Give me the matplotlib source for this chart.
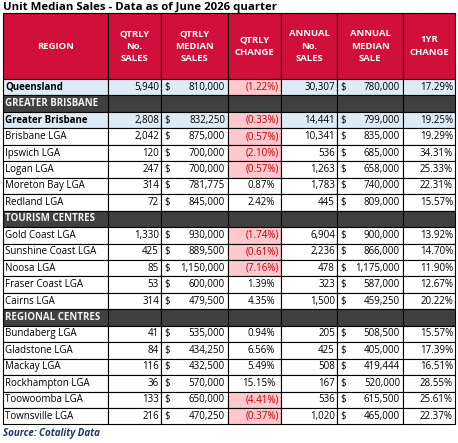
import matplotlib
matplotlib.use("Agg")
import matplotlib.pyplot as plt
from matplotlib.patches import Rectangle

title = "Unit Median Sales - Data as of June 2026 quarter"
headers = ["REGION", "QTRLY\nNo.\nSALES", "QTRLY\nMEDIAN\nSALES", "QTRLY\nCHANGE",
           "ANNUAL\nNo.\nSALES", "ANNUAL\nMEDIAN\nSALE", "1YR\nCHANGE"]
regions = ["Queensland", "GREATER BRISBANE", "Greater Brisbane", "Brisbane LGA", "Ipswich LGA",
           "Logan LGA", "Moreton Bay LGA", "Redland LGA", "TOURISM CENTRES", "Gold Coast LGA",
           "Sunshine Coast LGA", "Noosa LGA", "Fraser Coast LGA", "Cairns LGA", "REGIONAL CENTRES",
           "Bundaberg LGA", "Gladstone LGA", "Mackay LGA", "Rockhampton LGA", "Toowoomba LGA",
           "Townsville LGA"]
qtr_sales = [5940, None, 2808, 2042, 120, 247, 314, 72, None, 1330, 425, 85, 53, 314, None,
             41, 84, 116, 36, 133, 216]
qtr_median = [810000, None, 832250, 875000, 700000, 700000, 781775, 845000, None, 930000, 889500,
              1150000, 600000, 479500, None, 535000, 434250, 432500, 570000, 650000, 470250]
qtr_change = [-1.22, None, -0.33, -0.57, -2.10, -0.57, 0.87, 2.42, None, -1.74, -0.61, -7.16,
              1.39, 4.35, None, 0.94, 6.56, 5.49, 15.15, -4.41, -0.37]
ann_sales = [30307, None, 14441, 10341, 536, 1263, 1783, 445, None, 6904, 2236, 478, 323, 1500,
             None, 205, 425, 508, 167, 536, 1020]
ann_median = [780000, None, 799000, 835000, 685000, 658000, 740000, 809000, None, 900000, 866000,
              1175000, 587000, 459250, None, 508500, 405000, 419444, 520000, 615500, 465000]
yr_change = [17.29, None, 19.25, 19.29, 34.31, 25.33, 22.31, 15.57, None, 13.92, 14.70, 11.90,
             12.67, 20.22, None, 15.57, 17.39, 16.51, 28.55, 25.61, 22.37]
source = "Source: Cotality Data"

fig = plt.figure(figsize=(4.58, 4.43), dpi=100)
ax = fig.add_axes([0, 0, 1, 1])
ax.set_xlim(0, 458); ax.set_ylim(443, 0); ax.axis("off")
FONT = "Open Sans"
xs = [3, 108, 161, 228, 281, 337, 403, 455]
ax.text(3, 7, title, fontsize=8.2, fontweight="bold", family=FONT, va="center", ha="left")
RED = "#D0103A"
y0, y1 = 13, 79
for i in range(7):
    ax.add_patch(Rectangle((xs[i], y0), xs[i+1]-xs[i], y1-y0, fc=RED, ec="black", lw=0.8))
    ax.text((xs[i]+xs[i+1])/2, (y0+y1)/2, headers[i], color="white", fontsize=6.8,
            fontweight="bold", family=FONT, ha="center", va="center", linespacing=1.45)
rh = 16.45
for r, name in enumerate(regions):
    top = y1 + r*rh
    cy = top + rh/2
    if qtr_sales[r] is None:
        ax.add_patch(Rectangle((xs[0], top), xs[-1]-xs[0], rh, fc="#404040", ec="black", lw=0.8))
        for x in xs[1:-1]:
            ax.plot([x, x], [top, top+rh], color="black", lw=0.8)
        ax.text(xs[0]+2, cy, name, color="#F2F2F2", fontsize=7, fontweight="bold", family=FONT, va="center")
        continue
    hl = name in ("Queensland", "Greater Brisbane")
    bg = "#DDEBF7" if hl else "white"
    for i in range(7):
        fc = bg
        if i == 3 and qtr_change[r] < 0:
            fc = "#FFC7CE"
        ax.add_patch(Rectangle((xs[i], top), xs[i+1]-xs[i], rh, fc=fc, ec="black", lw=0.8))
    fw = "bold" if hl else "normal"
    kw = dict(fontsize=7, family=FONT, va="center", fontweight=fw)
    ax.text(xs[0]+2, cy, name, ha="left", **kw)
    ax.text(xs[2]-2, cy, f"{qtr_sales[r]:,}", ha="right", **{**kw, "fontweight": "normal"})
    ax.text(xs[2]+3, cy, "$", ha="left", **{**kw, "fontweight": "normal"})
    ax.text(xs[3]-3, cy, f"{qtr_median[r]:,}", ha="right", **{**kw, "fontweight": "normal"})
    c = qtr_change[r]
    if c < 0:
        ax.text(xs[4]-2, cy, f"({abs(c):.2f}%)", ha="right", color="#C00000", fontsize=7, family=FONT, va="center")
    else:
        ax.text(xs[4]-6, cy, f"{c:.2f}%", ha="right", fontsize=7, family=FONT, va="center")
    ax.text(xs[5]-2, cy, f"{ann_sales[r]:,}", ha="right", fontsize=7, family=FONT, va="center")
    ax.text(xs[5]+3, cy, "$", ha="left", fontsize=7, family=FONT, va="center")
    ax.text(xs[6]-3, cy, f"{ann_median[r]:,}", ha="right", fontsize=7, family=FONT, va="center")
    ax.text(xs[7]-2, cy, f"{yr_change[r]:.2f}%", ha="right", fontsize=7, family=FONT, va="center")
ax.text(3, y1 + len(regions)*rh + 9, source, fontsize=7, fontweight="bold", fontstyle="italic",
        color="#1F3864", family=FONT, va="center")
fig.savefig("out.png", dpi=100)
